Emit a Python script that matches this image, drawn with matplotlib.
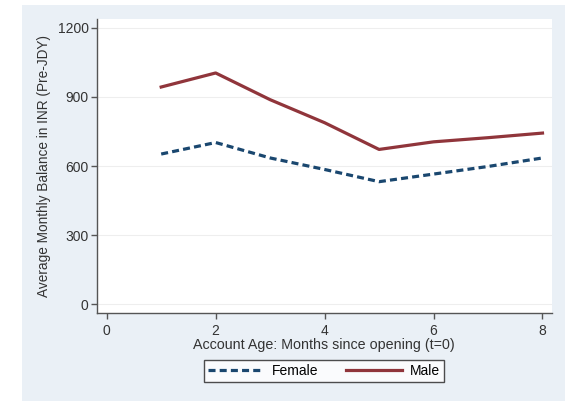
import matplotlib.pyplot as plt
from matplotlib.patches import Rectangle

plt.rcParams['font.family'] = ['Liberation Sans', 'DejaVu Sans']

# data
months = [1, 2, 3, 4, 5, 6, 7, 8]
male = [943, 1004, 888, 788, 672, 705, 723, 743]
female = [652, 702, 635, 585, 532, 565, 598, 635]
yticks = [0, 300, 600, 900, 1200]
xticks = [0, 2, 4, 6, 8]

fig = plt.figure(figsize=(5.70, 4.01), dpi=100)
fig.patch.set_facecolor('white')
# stata style outer panel
fig.patches.append(Rectangle((0.0386, 0.0), 0.953, 0.9875, transform=fig.transFigure,
                             facecolor='#eaf0f6', edgecolor='none', zorder=-5))

ax = fig.add_axes([0.170, 0.219, 0.798, 0.734])
ax.set_facecolor('white')

ax.plot(months, female, color='#1a476f', lw=2.3, ls=(0, (2.2, 1.3)), label='Female')
ax.plot(months, male, color='#90353b', lw=2.3, label='Male')

ax.set_xlim(-0.18, 8.17)
ax.set_ylim(-39, 1239)
ax.set_xticks(xticks)
ax.set_yticks(yticks)
ax.grid(axis='y', color='#eeeeee', lw=0.8)
ax.set_axisbelow(True)

for s in ['top', 'right']:
    ax.spines[s].set_visible(False)
for s in ['left', 'bottom']:
    ax.spines[s].set_color('#555555')
    ax.spines[s].set_linewidth(1.0)

ax.tick_params(axis='both', colors='#555555', labelcolor='#333333', labelsize=10,
               length=4, width=1.0, pad=2)
ax.tick_params(axis='x', pad=4)

ax.set_xlabel('Account Age: Months since opening (t=0)', fontsize=10.3, color='#333333', labelpad=0)
ax.set_ylabel('Average Monthly Balance in INR (Pre-JDY)', fontsize=9.8, color='#333333', labelpad=5)

leg = fig.legend(loc='center', bbox_to_anchor=(324 / 570, 1 - 371 / 401), ncol=2,
                 frameon=True, fancybox=False, fontsize=10, handlelength=4.0,
                 columnspacing=2.0, borderpad=0.3, handletextpad=0.6)
leg.get_frame().set_edgecolor('#222222')
leg.get_frame().set_linewidth(1.0)

fig.savefig('out.png', dpi=100)
